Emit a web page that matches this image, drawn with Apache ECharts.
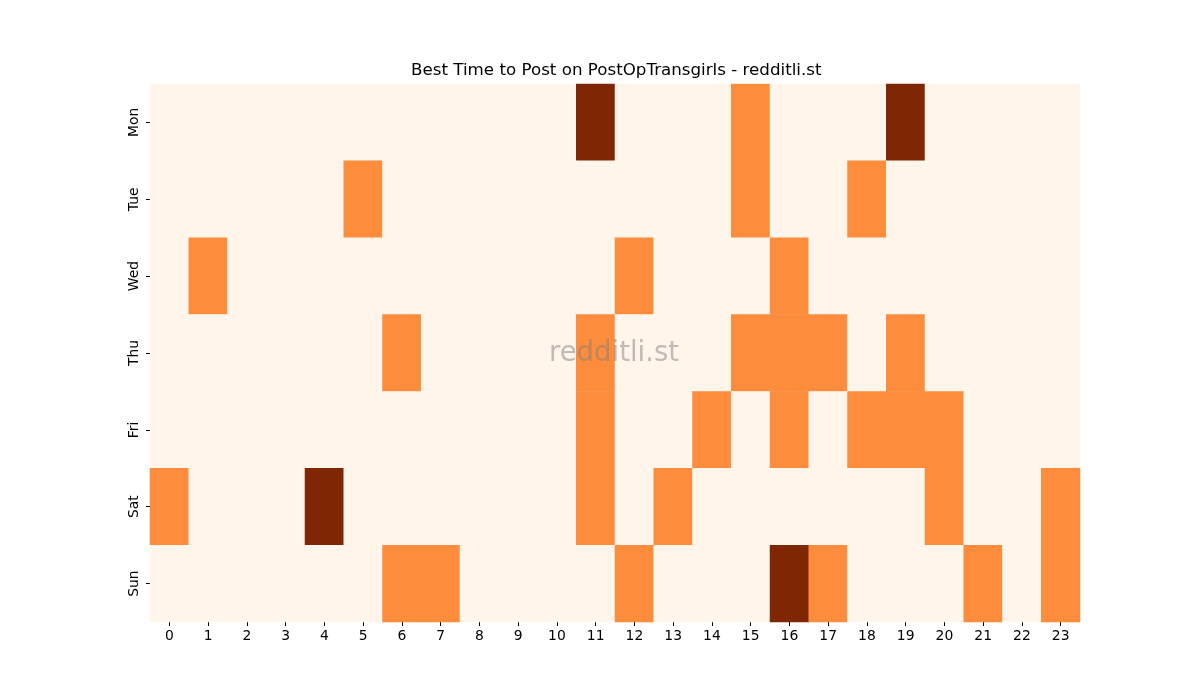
<!DOCTYPE html>
<html>
<head>
<meta charset="utf-8">
<script src="https://cdn.jsdelivr.net/npm/echarts@6/dist/echarts.min.js"></script>
<style>
  html, body { margin: 0; padding: 0; background: #fff; }
  #chart { width: 1200px; height: 700px; }
</style>
</head>
<body>
<div id="chart"></div>
<script>
const days = ['Mon', 'Tue', 'Wed', 'Thu', 'Fri', 'Sat', 'Sun']
const hours = ['0', '1', '2', '3', '4', '5', '6', '7', '8', '9', '10', '11',
  '12', '13', '14', '15', '16', '17', '18', '19', '20', '21', '22', '23']

// post activity level per hour (0 none, 1 some, 2 most)
const mon = [0, 0, 0, 0, 0, 0, 0, 0, 0, 0, 0, 2, 0, 0, 0, 1, 0, 0, 0, 2, 0, 0, 0, 0]
const tue = [0, 0, 0, 0, 0, 1, 0, 0, 0, 0, 0, 0, 0, 0, 0, 1, 0, 0, 1, 0, 0, 0, 0, 0]
const wed = [0, 1, 0, 0, 0, 0, 0, 0, 0, 0, 0, 0, 1, 0, 0, 0, 1, 0, 0, 0, 0, 0, 0, 0]
const thu = [0, 0, 0, 0, 0, 0, 1, 0, 0, 0, 0, 1, 0, 0, 0, 1, 1, 1, 0, 1, 0, 0, 0, 0]
const fri = [0, 0, 0, 0, 0, 0, 0, 0, 0, 0, 0, 1, 0, 0, 1, 0, 1, 0, 1, 1, 1, 0, 0, 0]
const sat = [1, 0, 0, 0, 2, 0, 0, 0, 0, 0, 0, 1, 0, 1, 0, 0, 0, 0, 0, 0, 1, 0, 0, 1]
const sun = [0, 0, 0, 0, 0, 0, 1, 1, 0, 0, 0, 0, 1, 0, 0, 0, 2, 1, 0, 0, 0, 1, 0, 1]

const rows = [mon, tue, wed, thu, fri, sat, sun]
const cells = []
rows.forEach((row, d) => {
  row.forEach((v, h) => cells.push([h, d, v]))
})

const chart = echarts.init(document.getElementById('chart'))
const font = 'DejaVu Sans'

chart.setOption({
  animation: false,
  textStyle: { fontFamily: font },
  title: {
    text: 'Best Time to Post on PostOpTransgirls - redditli.st',
    left: 411,
    top: 62,
    padding: 0,
    textStyle: { fontFamily: font, fontSize: 16.7, fontWeight: 'normal', color: '#000' }
  },
  grid: { left: 150, right: 120, top: 84, bottom: 78 },
  xAxis: {
    type: 'category',
    data: hours,
    axisLine: { show: false },
    axisTick: { show: true, alignWithLabel: true, length: 4, lineStyle: { color: '#000' } },
    axisLabel: { color: '#000', fontSize: 13.9, margin: 7 },
    splitLine: { show: false }
  },
  yAxis: {
    type: 'category',
    data: days,
    inverse: true,
    axisLine: { show: false },
    axisTick: { show: true, alignWithLabel: true, length: 4, lineStyle: { color: '#000' } },
    axisLabel: { color: '#000', fontSize: 13.9, rotate: 90, margin: 9 },
    splitLine: { show: false }
  },
  visualMap: {
    show: false,
    type: 'piecewise',
    dimension: 2,
    pieces: [
      { value: 0, color: '#fff5eb' },
      { value: 1, color: '#fd8d3c' },
      { value: 2, color: '#7f2704' }
    ]
  },
  graphic: [{
    type: 'text',
    left: 549,
    top: 340,
    z: 100,
    style: {
      text: 'redditli.st',
      font: '27.5px "DejaVu Sans"',
      fill: 'rgba(128,128,128,0.5)'
    }
  }],
  series: [{
    type: 'heatmap',
    data: cells,
    itemStyle: { borderWidth: 0 },
    emphasis: { disabled: true }
  }]
})
</script>
</body>
</html>
